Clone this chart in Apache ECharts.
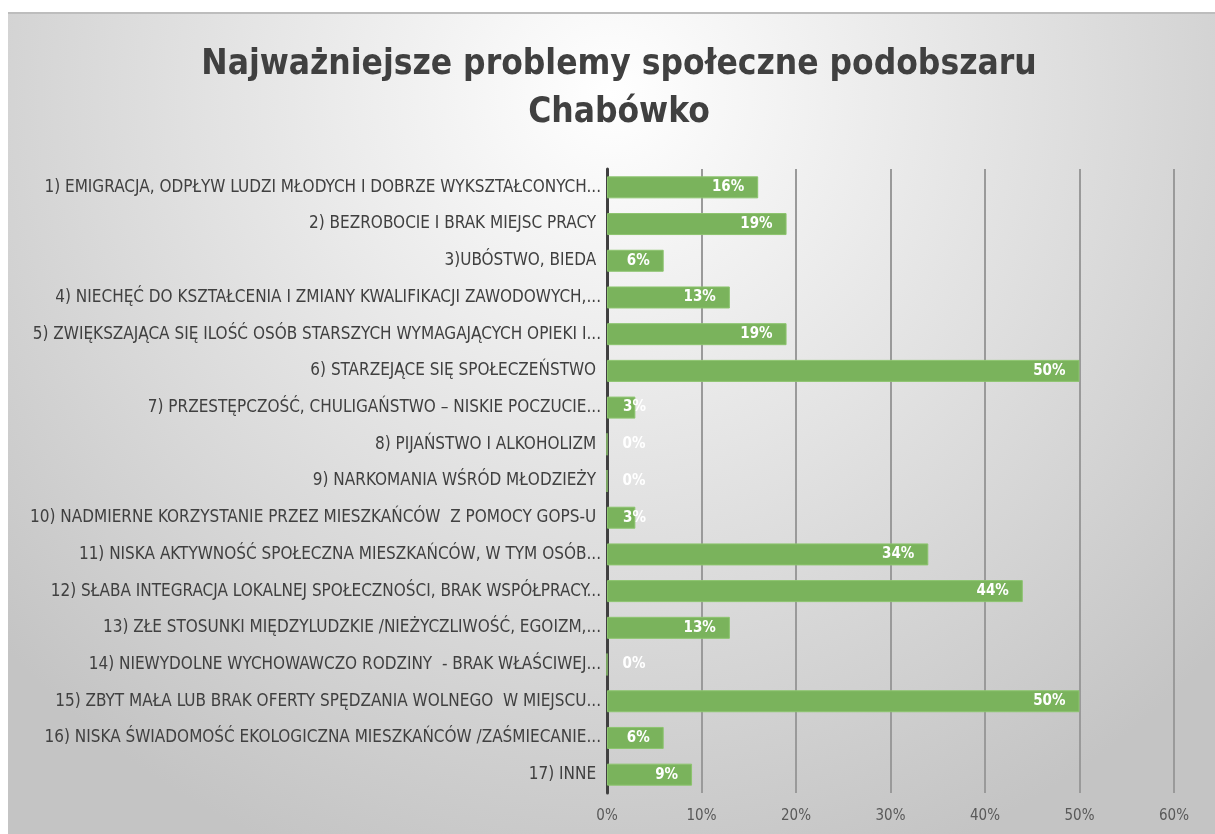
<!DOCTYPE html>
<html>
<head>
<meta charset="utf-8">
<script src="https://cdn.jsdelivr.net/npm/echarts@6/dist/echarts.min.js"></script>
<style>
  html, body { margin: 0; padding: 0; background: #ffffff; }
  #chart { width: 1215px; height: 834px; }
</style>
</head>
<body>
<div id="chart"></div>
<script>
// categories, top to bottom
const categories = [
  '1) EMIGRACJA, ODPŁYW LUDZI MŁODYCH I DOBRZE WYKSZTAŁCONYCH...',
  '2) BEZROBOCIE I BRAK MIEJSC PRACY ',
  '3)UBÓSTWO, BIEDA ',
  '4) NIECHĘĆ DO KSZTAŁCENIA I ZMIANY KWALIFIKACJI ZAWODOWYCH,...',
  '5) ZWIĘKSZAJĄCA SIĘ ILOŚĆ OSÓB STARSZYCH WYMAGAJĄCYCH OPIEKI I...',
  '6) STARZEJĄCE SIĘ SPOŁECZEŃSTWO ',
  '7) PRZESTĘPCZOŚĆ, CHULIGAŃSTWO – NISKIE POCZUCIE...',
  '8) PIJAŃSTWO I ALKOHOLIZM ',
  '9) NARKOMANIA WŚRÓD MŁODZIEŻY ',
  '10) NADMIERNE KORZYSTANIE PRZEZ MIESZKAŃCÓW  Z POMOCY GOPS-U ',
  '11) NISKA AKTYWNOŚĆ SPOŁECZNA MIESZKAŃCÓW, W TYM OSÓB...',
  '12) SŁABA INTEGRACJA LOKALNEJ SPOŁECZNOŚCI, BRAK WSPÓŁPRACY...',
  '13) ZŁE STOSUNKI MIĘDZYLUDZKIE /NIEŻYCZLIWOŚĆ, EGOIZM,...',
  '14) NIEWYDOLNE WYCHOWAWCZO RODZINY  - BRAK WŁAŚCIWEJ...',
  '15) ZBYT MAŁA LUB BRAK OFERTY SPĘDZANIA WOLNEGO  W MIEJSCU...',
  '16) NISKA ŚWIADOMOŚĆ EKOLOGICZNA MIESZKAŃCÓW /ZAŚMIECANIE...',
  '17) INNE '
];
// percent values
const values = [16, 19, 6, 13, 19, 50, 3, 0, 0, 3, 34, 44, 13, 0, 50, 6, 9];

const titleText = 'Najważniejsze problemy społeczne podobszaru\nChabówko';

const chart = echarts.init(document.getElementById('chart'));

const labelFont = '"Liberation Sans Narrow", "DejaVu Sans Condensed", sans-serif';

// small bars: label sits just past the axis like in the original
const barData = values.map(v => {
  if (v < 5) {
    return { value: v, label: { position: 'insideLeft', distance: 16 } };
  }
  return v;
});

chart.setOption({
  backgroundColor: '#ffffff',
  graphic: [
    {
      type: 'rect',
      z: -10,
      silent: true,
      shape: { x: 8, y: 12, width: 1207, height: 822 },
      style: {
        fill: {
          type: 'radial', x: 0.5, y: 0.1, r: 1.0,
          colorStops: [
            { offset: 0, color: '#ffffff' },
            { offset: 1, color: '#c4c4c4' }
          ]
        }
      }
    },
    {
      type: 'rect',
      z: -9,
      silent: true,
      shape: { x: 8, y: 12, width: 1207, height: 2 },
      style: { fill: '#bdbdbd' }
    }
  ],
  title: {
    text: titleText,
    left: 614,
    top: 36,
    textAlign: 'center',
    textStyle: {
      fontFamily: labelFont,
      fontSize: 35,
      fontWeight: 'bold',
      color: '#404040',
      lineHeight: 48
    }
  },
  grid: { left: 607, right: 41, top: 169, bottom: 41, containLabel: false },
  xAxis: {
    type: 'value',
    min: 0,
    max: 60,
    interval: 10,
    axisLine: { show: false },
    axisTick: { show: false },
    axisLabel: {
      formatter: '{value}%',
      color: '#595959',
      fontSize: 15,
      fontFamily: labelFont,
      margin: 16
    },
    splitLine: { lineStyle: { color: '#9a9a9a', width: 2 } }
  },
  yAxis: {
    type: 'category',
    inverse: true,
    data: categories,
    axisLine: { lineStyle: { color: '#404040', width: 3 } },
    axisTick: { show: false },
    axisLabel: {
      color: '#404040',
      fontSize: 17,
      fontFamily: labelFont,
      margin: 6
    }
  },
  series: [
    {
      type: 'bar',
      data: barData,
      barWidth: 22,
      itemStyle: { color: '#7ab35c', borderColor: '#8cc46e', borderWidth: 1 },
      label: {
        show: true,
        position: 'insideRight',
        distance: 14,
        formatter: '{c}%',
        color: '#ffffff',
        fontWeight: 'bold',
        fontSize: 15,
        fontFamily: labelFont
      }
    }
  ]
});
</script>
</body>
</html>
